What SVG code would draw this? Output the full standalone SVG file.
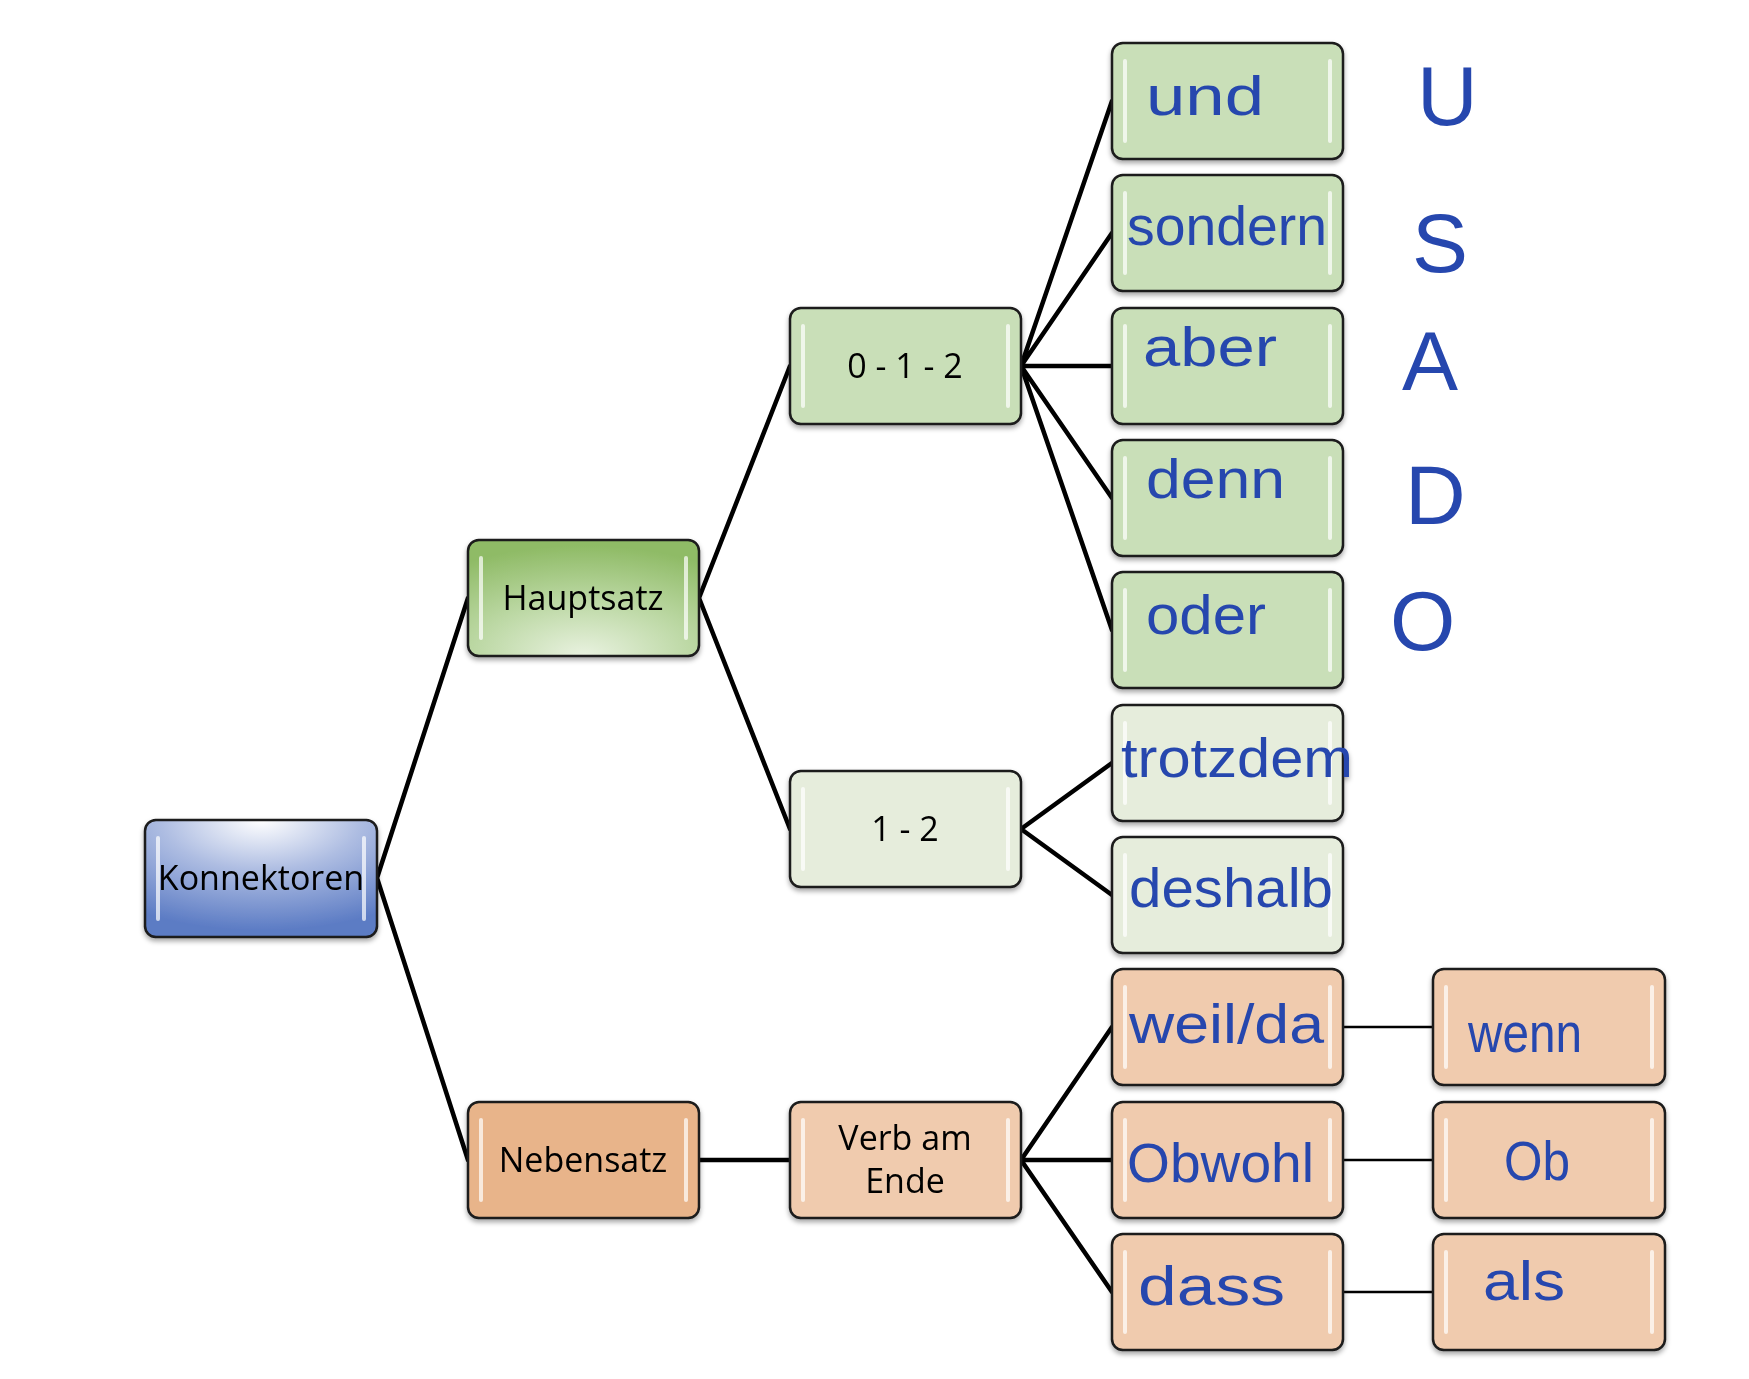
<svg xmlns="http://www.w3.org/2000/svg" width="1749" height="1379" viewBox="0 0 1749 1379">
<style>
.box{stroke:#1a1a1a;stroke-width:2.5}
.hl{fill:#ffffff;opacity:0.7}
.lbl{font-family:"Open Sans","Liberation Sans",sans-serif;font-size:34px;fill:#000;text-anchor:middle}
.hw{font-family:"Liberation Sans","DejaVu Sans",sans-serif;font-size:56px;fill:#2647AE}
.big{font-family:"Liberation Sans","DejaVu Sans",sans-serif;font-size:84px;fill:#2647AE}
.ln{stroke:#000;stroke-width:4.5;fill:none;stroke-linecap:round}
.ln2{stroke:#000;stroke-width:2.5;fill:none}
</style>
<defs>
<filter id="sh" x="-10%" y="-10%" width="120%" height="130%">
<feDropShadow dx="0" dy="3" stdDeviation="2.5" flood-color="#000" flood-opacity="0.35"/>
</filter>
<radialGradient id="gBlue" cx="50%" cy="0%" r="95%" fx="50%" fy="0%">
<stop offset="0" stop-color="#ffffff"/>
<stop offset="0.45" stop-color="#aebde2"/>
<stop offset="1" stop-color="#5b7bc4"/>
</radialGradient>
<radialGradient id="gGreen" cx="50%" cy="100%" r="95%" fx="50%" fy="100%">
<stop offset="0" stop-color="#e9f2e0"/>
<stop offset="0.5" stop-color="#bcd8a4"/>
<stop offset="1" stop-color="#8fbb66"/>
</radialGradient>
</defs>

<g id="connectors">
<path class="ln" d="M377 878 L468 598 M377 878 L468 1160"/>
<path class="ln" d="M699 598 L790 366 M699 598 L790 829 M699 1160 L790 1160"/>
<path class="ln" d="M1021 366 L1112 101 M1021 366 L1112 233 M1021 366 L1112 366 M1021 366 L1112 498 M1021 366 L1112 630"/>
<path class="ln" d="M1021 829 L1112 763 M1021 829 L1112 895"/>
<path class="ln" d="M1021 1160 L1112 1027 M1021 1160 L1112 1160 M1021 1160 L1112 1292"/>
<path class="ln2" d="M1343 1027 L1433 1027 M1343 1160 L1433 1160 M1343 1292 L1433 1292"/>
</g>

<g id="n-konnektoren" filter="url(#sh)">
<rect class="box" x="145" y="820" width="232" height="117" rx="11" fill="url(#gBlue)"/>
<rect class="hl" x="156" y="836" width="4" height="85" rx="2" opacity="0.5"/>
<rect class="hl" x="362" y="836" width="4" height="85" rx="2" opacity="0.5"/>
<text class="lbl" x="261" y="890">Konnektoren</text>
</g>
<g id="n-hauptsatz" filter="url(#sh)">
<rect class="box" x="468" y="540" width="231" height="116" rx="11" fill="url(#gGreen)"/>
<rect class="hl" x="479" y="556" width="4" height="84" rx="2"/>
<rect class="hl" x="684" y="556" width="4" height="84" rx="2"/>
<text class="lbl" x="583" y="610">Hauptsatz</text>
</g>
<g id="n-nebensatz" filter="url(#sh)">
<rect class="box" x="468" y="1102" width="231" height="116" rx="11" fill="#e8b48a"/>
<rect class="hl" x="479" y="1118" width="4" height="84" rx="2"/>
<rect class="hl" x="684" y="1118" width="4" height="84" rx="2"/>
<text class="lbl" x="583" y="1172">Nebensatz</text>
</g>
<g id="n-012" filter="url(#sh)">
<rect class="box" x="790" y="308" width="231" height="116" rx="11" fill="#c9dfb8"/>
<rect class="hl" x="801" y="324" width="4" height="84" rx="2"/>
<rect class="hl" x="1006" y="324" width="4" height="84" rx="2"/>
<text class="lbl" x="905" y="378">0 - 1 - 2</text>
</g>
<g id="n-12" filter="url(#sh)">
<rect class="box" x="790" y="771" width="231" height="116" rx="11" fill="#e6eddc"/>
<rect class="hl" x="801" y="787" width="4" height="84" rx="2"/>
<rect class="hl" x="1006" y="787" width="4" height="84" rx="2"/>
<text class="lbl" x="905" y="841">1 - 2</text>
</g>
<g id="n-verb" filter="url(#sh)">
<rect class="box" x="790" y="1102" width="231" height="116" rx="11" fill="#f0cbae"/>
<rect class="hl" x="801" y="1118" width="4" height="84" rx="2"/>
<rect class="hl" x="1006" y="1118" width="4" height="84" rx="2"/>
<text class="lbl" x="905" y="1150">Verb am</text>
<text class="lbl" x="905" y="1193">Ende</text>
</g>

<g id="n-und" filter="url(#sh)">
<rect class="box" x="1112" y="43" width="231" height="116" rx="11" fill="#c9dfb8"/>
<rect class="hl" x="1123" y="59" width="4" height="84" rx="2"/>
<rect class="hl" x="1328" y="59" width="4" height="84" rx="2"/>
<text class="hw" x="1146" y="115" textLength="118" lengthAdjust="spacingAndGlyphs">und</text>
</g>
<g id="n-sondern" filter="url(#sh)">
<rect class="box" x="1112" y="175" width="231" height="116" rx="11" fill="#c9dfb8"/>
<rect class="hl" x="1123" y="191" width="4" height="84" rx="2"/>
<rect class="hl" x="1328" y="191" width="4" height="84" rx="2"/>
<text class="hw" x="1127" y="245" textLength="200" lengthAdjust="spacingAndGlyphs">sondern</text>
</g>
<g id="n-aber" filter="url(#sh)">
<rect class="box" x="1112" y="308" width="231" height="116" rx="11" fill="#c9dfb8"/>
<rect class="hl" x="1123" y="324" width="4" height="84" rx="2"/>
<rect class="hl" x="1328" y="324" width="4" height="84" rx="2"/>
<text class="hw" x="1143" y="366" textLength="134" lengthAdjust="spacingAndGlyphs">aber</text>
</g>
<g id="n-denn" filter="url(#sh)">
<rect class="box" x="1112" y="440" width="231" height="116" rx="11" fill="#c9dfb8"/>
<rect class="hl" x="1123" y="456" width="4" height="84" rx="2"/>
<rect class="hl" x="1328" y="456" width="4" height="84" rx="2"/>
<text class="hw" x="1146" y="498" textLength="139" lengthAdjust="spacingAndGlyphs">denn</text>
</g>
<g id="n-oder" filter="url(#sh)">
<rect class="box" x="1112" y="572" width="231" height="116" rx="11" fill="#c9dfb8"/>
<rect class="hl" x="1123" y="588" width="4" height="84" rx="2"/>
<rect class="hl" x="1328" y="588" width="4" height="84" rx="2"/>
<text class="hw" x="1146" y="634" textLength="120" lengthAdjust="spacingAndGlyphs">oder</text>
</g>
<g id="n-trotzdem" filter="url(#sh)">
<rect class="box" x="1112" y="705" width="231" height="116" rx="11" fill="#e6eddc"/>
<rect class="hl" x="1123" y="721" width="4" height="84" rx="2"/>
<rect class="hl" x="1328" y="721" width="4" height="84" rx="2"/>
<text class="hw" x="1121" y="777" textLength="232" lengthAdjust="spacingAndGlyphs">trotzdem</text>
</g>
<g id="n-deshalb" filter="url(#sh)">
<rect class="box" x="1112" y="837" width="231" height="116" rx="11" fill="#e6eddc"/>
<rect class="hl" x="1123" y="853" width="4" height="84" rx="2"/>
<rect class="hl" x="1328" y="853" width="4" height="84" rx="2"/>
<text class="hw" x="1129" y="907" textLength="204" lengthAdjust="spacingAndGlyphs">deshalb</text>
</g>
<g id="n-weil" filter="url(#sh)">
<rect class="box" x="1112" y="969" width="231" height="116" rx="11" fill="#f0cbae"/>
<rect class="hl" x="1123" y="985" width="4" height="84" rx="2"/>
<rect class="hl" x="1328" y="985" width="4" height="84" rx="2"/>
<text class="hw" x="1129" y="1043" textLength="195" lengthAdjust="spacingAndGlyphs">weil/da</text>
</g>
<g id="n-obwohl" filter="url(#sh)">
<rect class="box" x="1112" y="1102" width="231" height="116" rx="11" fill="#f0cbae"/>
<rect class="hl" x="1123" y="1118" width="4" height="84" rx="2"/>
<rect class="hl" x="1328" y="1118" width="4" height="84" rx="2"/>
<text class="hw" x="1127" y="1182" textLength="187" lengthAdjust="spacingAndGlyphs">Obwohl</text>
</g>
<g id="n-dass" filter="url(#sh)">
<rect class="box" x="1112" y="1234" width="231" height="116" rx="11" fill="#f0cbae"/>
<rect class="hl" x="1123" y="1250" width="4" height="84" rx="2"/>
<rect class="hl" x="1328" y="1250" width="4" height="84" rx="2"/>
<text class="hw" x="1138" y="1305" textLength="147" lengthAdjust="spacingAndGlyphs">dass</text>
</g>
<g id="n-wenn" filter="url(#sh)">
<rect class="box" x="1433" y="969" width="232" height="116" rx="11" fill="#f0cbae"/>
<rect class="hl" x="1444" y="985" width="4" height="84" rx="2"/>
<rect class="hl" x="1650" y="985" width="4" height="84" rx="2"/>
<text class="hw" x="1468" y="1052" textLength="114" lengthAdjust="spacingAndGlyphs">wenn</text>
</g>
<g id="n-ob" filter="url(#sh)">
<rect class="box" x="1433" y="1102" width="232" height="116" rx="11" fill="#f0cbae"/>
<rect class="hl" x="1444" y="1118" width="4" height="84" rx="2"/>
<rect class="hl" x="1650" y="1118" width="4" height="84" rx="2"/>
<text class="hw" x="1504" y="1180" textLength="66" lengthAdjust="spacingAndGlyphs">Ob</text>
</g>
<g id="n-als" filter="url(#sh)">
<rect class="box" x="1433" y="1234" width="232" height="116" rx="11" fill="#f0cbae"/>
<rect class="hl" x="1444" y="1250" width="4" height="84" rx="2"/>
<rect class="hl" x="1650" y="1250" width="4" height="84" rx="2"/>
<text class="hw" x="1483" y="1300" textLength="82" lengthAdjust="spacingAndGlyphs">als</text>
</g>

<g id="letters">
<text class="big" x="1417" y="125">U</text>
<text class="big" x="1412" y="272">S</text>
<text class="big" x="1402" y="390">A</text>
<text class="big" x="1405" y="524">D</text>
<text class="big" x="1390" y="650">O</text>
</g>
</svg>
